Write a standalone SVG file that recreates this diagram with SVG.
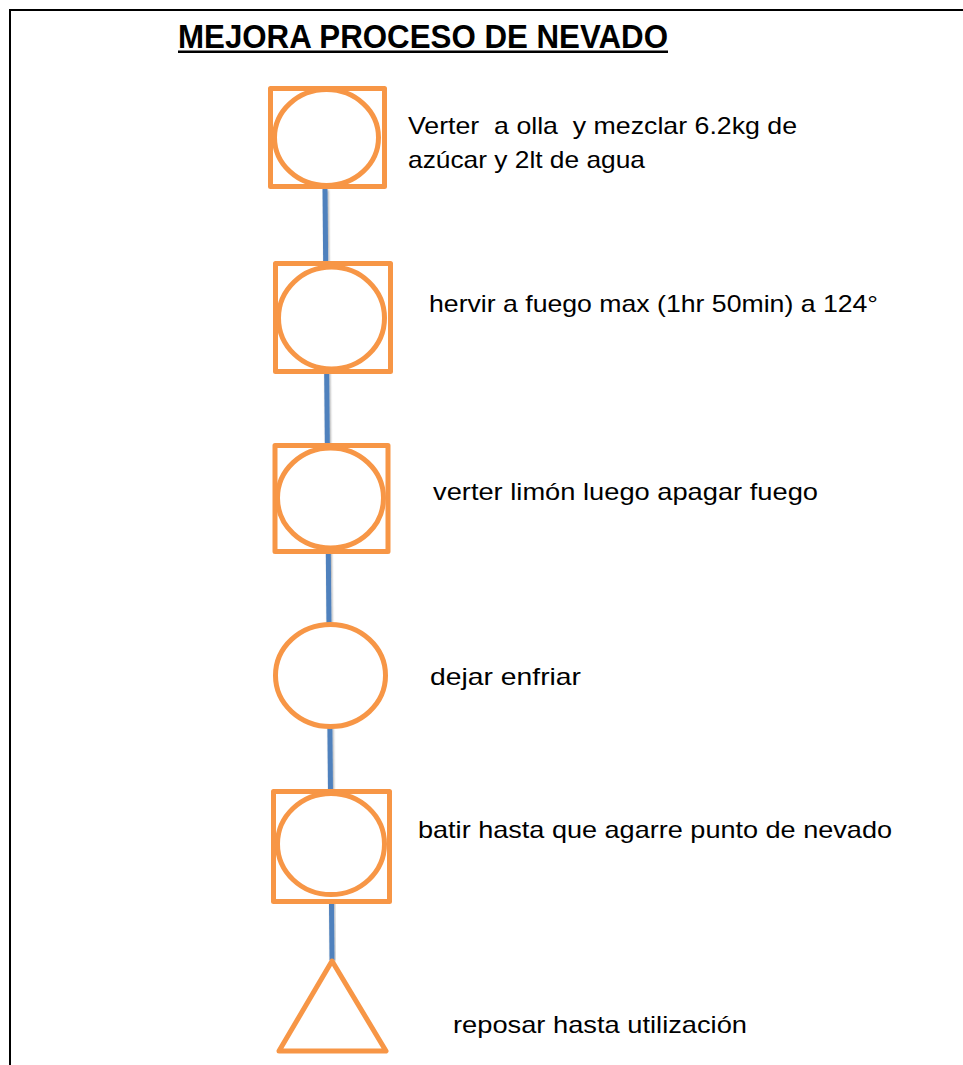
<svg xmlns="http://www.w3.org/2000/svg" width="963" height="1065" viewBox="0 0 963 1065">
  <style>
    .shape { fill: #FFFFFF; stroke: #F79646; stroke-width: 5; stroke-linejoin: round; }
    .label { font-family: "Liberation Sans", Arial, sans-serif; font-size: 24px; fill: #000000; }
    .title { font-family: "Liberation Sans", Arial, sans-serif; font-size: 33px; font-weight: bold; fill: #000000; }
    .flow { stroke: #4F81BD; stroke-width: 5; fill: none; }
  </style>
  <defs>
    <filter id="soft" x="-50%" y="-5%" width="200%" height="110%">
      <feGaussianBlur in="SourceAlpha" stdDeviation="1.2"/>
      <feOffset dx="1" dy="1" result="b"/>
      <feComponentTransfer><feFuncA type="linear" slope="0.35"/></feComponentTransfer>
      <feMerge><feMergeNode/><feMergeNode in="SourceGraphic"/></feMerge>
    </filter>
  </defs>

  <rect x="0" y="0" width="963" height="1065" fill="#FFFFFF"/>
  <!-- page frame -->
  <path d="M10,1065 V10 H963" fill="none" stroke="#000000" stroke-width="2"/>

  <!-- title -->
  <g id="title">
    <text class="title" x="178" y="48" textLength="490" lengthAdjust="spacingAndGlyphs">MEJORA PROCESO DE NEVADO</text>
    <rect x="178" y="50.5" width="490" height="2.5" fill="#000000"/>
  </g>

  <!-- connectors -->
  <g id="connectors">
    <line class="flow" x1="325" y1="189" x2="332" y2="960" filter="url(#soft)"/>
  </g>

  <!-- step 1: combined operation/inspection -->
  <g id="step1">
    <rect class="shape" x="270.5" y="88.5" width="114" height="98"/>
    <ellipse class="shape" cx="326.5" cy="137.5" rx="52" ry="48"/>
    <text class="label" x="408" y="134" textLength="389" lengthAdjust="spacingAndGlyphs" xml:space="preserve">Verter  a olla  y mezclar 6.2kg de</text>
    <text class="label" x="408" y="168" textLength="237" lengthAdjust="spacingAndGlyphs">azúcar y 2lt de agua</text>
  </g>

  <!-- step 2 -->
  <g id="step2">
    <rect class="shape" x="275.5" y="263.5" width="115" height="108"/>
    <ellipse class="shape" cx="331.5" cy="318" rx="53" ry="51"/>
    <text class="label" x="429" y="312" textLength="449" lengthAdjust="spacingAndGlyphs">hervir a fuego max (1hr 50min) a 124°</text>
  </g>

  <!-- step 3 -->
  <g id="step3">
    <rect class="shape" x="275" y="445.5" width="113" height="106"/>
    <ellipse class="shape" cx="330.5" cy="498" rx="53" ry="50"/>
    <text class="label" x="433" y="500" textLength="385" lengthAdjust="spacingAndGlyphs">verter limón luego apagar fuego</text>
  </g>

  <!-- step 4: operation -->
  <g id="step4">
    <ellipse class="shape" cx="330.5" cy="675.5" rx="55" ry="51"/>
    <text class="label" x="430" y="685" textLength="151" lengthAdjust="spacingAndGlyphs">dejar enfriar</text>
  </g>

  <!-- step 5 -->
  <g id="step5">
    <rect class="shape" x="273.5" y="791.5" width="116" height="110"/>
    <ellipse class="shape" cx="331" cy="844" rx="53.5" ry="50.5"/>
    <text class="label" x="418" y="838" textLength="474" lengthAdjust="spacingAndGlyphs">batir hasta que agarre punto de nevado</text>
  </g>

  <!-- step 6: storage -->
  <g id="step6">
    <polygon class="shape" points="332,961 386,1051 279,1051"/>
    <text class="label" x="453" y="1033" textLength="294" lengthAdjust="spacingAndGlyphs">reposar hasta utilización</text>
  </g>
</svg>
